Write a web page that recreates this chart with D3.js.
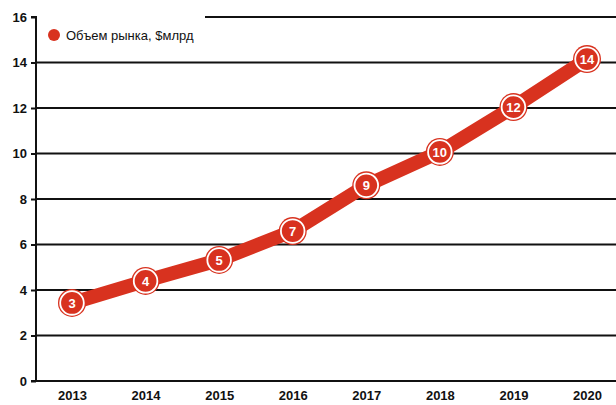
<!DOCTYPE html>
<html><head><meta charset="utf-8">
<script src="https://d3js.org/d3.v7.min.js"></script>
<style>body{margin:0;background:#fff;} svg{display:block;}</style>
</head><body>
<script>
const years = ["2013","2014","2015","2016","2017","2018","2019","2020"];
const values = [3.43, 4.4, 5.32, 6.59, 8.6, 10.07, 12.04, 14.15];
const labels = ["3","4","5","7","9","10","12","14"];
const yTicks = [0,2,4,6,8,10,12,14,16];
const legendLabel = "Объем рынка, $млрд";

const W = 616, H = 405;
const red = "#d8321f";
const svg = d3.select("body").append("svg").attr("width", W).attr("height", H);
const x = d3.scalePoint().domain(years).range([72, 587]);
const y = d3.scaleLinear().domain([0,16]).range([381, 17]);
const font = "'Liberation Sans', Arial, sans-serif";

// gridlines
svg.append("g").selectAll("line").data(yTicks.filter(d => d > 0)).join("line")
  .attr("x1", d => d === 16 ? 205 : 36).attr("x2", W)
  .attr("y1", d => y(d)).attr("y2", d => y(d))
  .attr("stroke", "#111").attr("stroke-width", 2);

// y axis
const ya = svg.append("g").attr("transform", "translate(36,0)")
  .call(d3.axisLeft(y).tickValues(yTicks).tickSize(5).tickPadding(4).tickFormat(d3.format("d")));
ya.select(".domain").attr("stroke", "#111").attr("stroke-width", 2).attr("d", `M-5,${y(16)}H0V${y(0)}H-5`);
ya.selectAll(".tick line").attr("stroke", "#111").attr("stroke-width", 2);
ya.selectAll("text").attr("font-family", font).attr("font-size", 13).attr("font-weight", "bold").attr("fill", "#111");
// baseline
svg.append("line").attr("x1", 36).attr("x2", W).attr("y1", y(0)).attr("y2", y(0)).attr("stroke", "#111").attr("stroke-width", 2);

// x axis labels
const xa = svg.append("g").attr("transform", `translate(0,${y(0)})`)
  .call(d3.axisBottom(x).tickSize(0).tickPadding(10));
xa.select(".domain").remove();
xa.selectAll("text").attr("font-family", font).attr("font-size", 13).attr("font-weight", "bold").attr("fill", "#111");

// line
const line = d3.line().x((d,i) => x(years[i])).y(d => y(d));
svg.append("path").datum(values).attr("d", line)
  .attr("fill", "none").attr("stroke", red).attr("stroke-width", 14).attr("stroke-linejoin", "round");

// markers
const g = svg.append("g").selectAll("g").data(values).join("g")
  .attr("transform", (d,i) => `translate(${x(years[i])},${y(d)})`);
g.append("circle").attr("r", 14).attr("fill", red);
g.append("circle").attr("r", 11.8).attr("fill", red).attr("stroke", "#fff").attr("stroke-width", 1.8);
g.append("text").text((d,i) => labels[i]).attr("text-anchor", "middle").attr("dy", "0.36em")
  .attr("fill", "#fff").attr("font-family", font).attr("font-size", 13).attr("font-weight", "bold");

// legend
svg.append("circle").attr("cx", 54).attr("cy", 35).attr("r", 6).attr("fill", red);
svg.append("text").attr("x", 66).attr("y", 40).text(legendLabel)
  .attr("font-family", font).attr("font-size", 13).attr("fill", "#111");
</script>
</body></html>
